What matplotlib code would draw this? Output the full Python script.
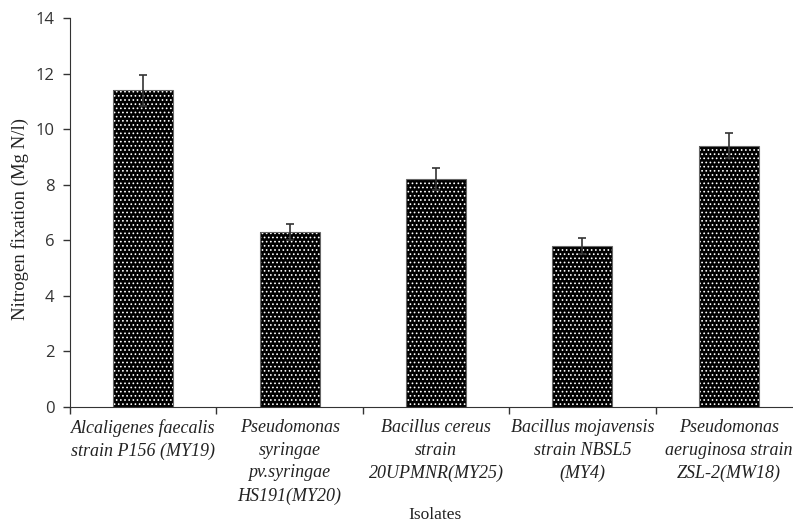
import numpy as np
import matplotlib
matplotlib.use("Agg")
import matplotlib.pyplot as plt

# Nitrogen fixation by isolate, with standard error
isolates = [
    "Alcaligenes faecalis\nstrain P156 (MY19)",
    "Pseudomonas\nsyringae\npv.syringae\nHS191(MY20)",
    "Bacillus cereus\nstrain\n20UPMNR(MY25)",
    "Bacillus mojavensis\nstrain NBSL5\n(MY4)",
    "Pseudomonas\naeruginosa strain\nZSL-2(MW18)",
]
fixation = [11.4, 6.3, 8.2, 5.8, 9.4]
fixation_err = [0.55, 0.3, 0.4, 0.3, 0.45]
yticks = [0, 2, 4, 6, 8, 10, 12, 14]

plt.rcParams["hatch.color"] = "white"
plt.rcParams["hatch.linewidth"] = 0.7

fig = plt.figure(figsize=(7.93, 5.24), dpi=100)
ax = fig.add_axes([70 / 793, 117 / 524, 732 / 793, 389 / 524])

x = np.arange(len(isolates))
ax.bar(x, fixation, width=0.41, color="black", hatch="....", linewidth=0)
ax.bar(x, fixation, width=0.41, fill=False, edgecolor="#666666", linewidth=0.8)
ax.errorbar(x, fixation, yerr=fixation_err, fmt="none",
            ecolor="#333333", elinewidth=1.2, capsize=3, capthick=1.2)

ax.set_xlim(-0.5, len(isolates) - 0.5)
ax.set_ylim(0, 14)
ax.set_yticks(yticks)
ax.set_yticklabels([str(t) for t in yticks], fontfamily="Open Sans",
                   fontsize=12, color="#333333")

# category boundaries carry the ticks, labels sit under the bar centres
ax.set_xticks(np.arange(len(isolates) + 1) - 0.5)
ax.set_xticklabels([])
for xi, name in zip(x, isolates):
    ax.text(xi, -0.42, name, ha="center", va="top", fontfamily="Liberation Serif",
            style="italic", fontsize=13, color="#222222", linespacing=1.45)

ax.tick_params(axis="y", direction="out", length=5, width=1, color="#333333", pad=6)
ax.tick_params(axis="x", direction="out", length=5, width=1, color="#333333")
for side in ["top", "right"]:
    ax.spines[side].set_visible(False)
for side in ["left", "bottom"]:
    ax.spines[side].set_color("#333333")

fig.text(20 / 793, 1 - 219 / 524, "Nitrogen fixation (Mg N/l)", rotation=90,
         ha="center", va="center", fontfamily="Liberation Serif", fontsize=13.5,
         color="#222222")
fig.text(435 / 793, 1 - 515 / 524, "Isolates", ha="center", va="center",
         fontfamily="Liberation Serif", fontsize=12.5, color="#222222")

fig.savefig("out.png", dpi=100)
